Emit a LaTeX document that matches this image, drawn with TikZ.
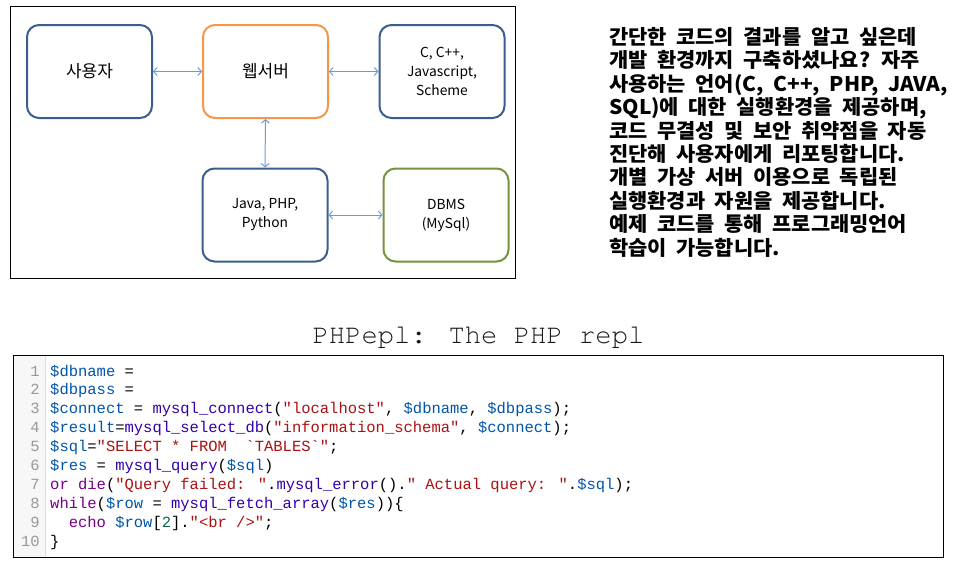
\documentclass[tikz,border=0pt]{standalone}
\usepackage{fontspec}
\usetikzlibrary{arrows.meta}
\setmainfont{Noto Sans CJK KR}
\newfontfamily\korfont{Noto Sans CJK KR}
\newfontfamily\korbold{Noto Sans CJK KR}[FakeStretch=1.035, WordSpace=2.0]
\newfontfamily\codefont{Liberation Mono}[Ligatures=TeXOff]
\newfontfamily\cursorfont{TeX Gyre Cursor}[Ligatures=TeXOff]
\definecolor{cmvar}{HTML}{0055AA}
\definecolor{cmbuilt}{HTML}{3300AA}
\definecolor{cmkw}{HTML}{770088}
\definecolor{cmstr}{HTML}{AA1111}
\definecolor{cmnum}{HTML}{116644}
\definecolor{cmgutter}{HTML}{F7F7F7}
\definecolor{cmgutline}{HTML}{DDDDDD}
\definecolor{cmlinenum}{HTML}{999999}
\definecolor{boxblue}{HTML}{3A5F8F}
\definecolor{boxorange}{HTML}{F79646}
\definecolor{boxgreen}{HTML}{77933C}
\definecolor{arrowblue}{HTML}{6E9BD6}
\newcommand\cmV[1]{\textcolor{cmvar}{#1}}
\newcommand\cmB[1]{\textcolor{cmbuilt}{#1}}
\newcommand\cmK[1]{\textcolor{cmkw}{#1}}
\newcommand\cmS[1]{\textcolor{cmstr}{#1}}
\newcommand\cmN[1]{\textcolor{cmnum}{#1}}
\newcommand\hangul[1]{{\fontsize{17}{19}\selectfont #1}}
\tikzset{
  diabox/.style={draw=#1, line width=2pt, rounded corners=12pt, minimum width=125pt, minimum height=93pt, inner sep=0pt, align=center, font=\korfont\fontsize{13.8}{19}\selectfont, text=black},
  link/.style={draw=arrowblue, line width=1pt, {Straight Barb[length=3.5pt,width=8pt]}-{Straight Barb[length=3.5pt,width=8pt]}},
  para/.style={anchor=base west, inner sep=0pt, font=\korbold\bfseries\fontsize{20.2}{23}\selectfont},
  codeline/.style={anchor=base west, inner sep=0pt, font=\codefont\fontsize{15.5}{18}\selectfont},
  linenum/.style={anchor=base east, inner sep=0pt, text=cmlinenum, font=\codefont\fontsize{15.5}{18}\selectfont},
}
\begin{document}
\begin{tikzpicture}[x=1pt,y=-1pt]
\useasboundingbox (0,0) rectangle (960,560);
% diagram frame
\draw[black, line width=1pt] (10,6) rectangle (515,278);
% boxes
\node[diabox=boxblue] (user) at (89.5,71.5) {\hangul{사용자}};
\node[diabox=boxorange] (web) at (265.5,71.5) {\hangul{웹서버}};
\node[diabox=boxblue] (clang) at (442,71.5) {C, C++,\\Javascript,\\Scheme};
\node[diabox=boxblue] (java) at (265,215) {Java, PHP,\\Python};
\node[diabox=boxgreen] (dbms) at (446,215) {DBMS\\(MySql)};
% connectors
\draw[link] (user.east) -- (web.west);
\draw[link] (web.east) -- (clang.west);
\draw[link] (web.south) -- (java.north);
\draw[link] (java.east) -- (dbms.west);
% right text
\node[para] (t1) at (609,44.5) {간단한 코드의 결과를 알고 싶은데};
\node[para] (t2) at (609,67.9) {개발 환경까지 구축하셨나요? 자주};
\node[para] (t3) at (609,91.3) {사용하는 언어(C, C++, PHP, JAVA,};
\node[para] (t4) at (609,114.7) {SQL)에 대한 실행환경을 제공하며,};
\node[para] (t5) at (609,138.1) {코드 무결성 및 보안 취약점을 자동};
\node[para] (t6) at (609,161.5) {진단해 사용자에게 리포팅합니다.};
\node[para] (t7) at (609,184.9) {개별 가상 서버 이용으로 독립된};
\node[para] (t8) at (609,208.3) {실행환경과 자원을 제공합니다.};
\node[para] (t9) at (609,231.7) {예제 코드를 통해 프로그래밍언어};
\node[para] (t10) at (609,255.1) {학습이 가능합니다.};
% title
\node[anchor=base, inner sep=0pt, font=\cursorfont\fontsize{27.2}{30}\selectfont, text=black!90] (title) at (478.5,343) {PHPepl: The PHP repl};
% code box
\fill[cmgutter] (13,355) rectangle (45,557);
\draw[cmgutline, line width=1pt] (45,355) -- (45,557);
\draw[black, line width=1pt] (13,355) rectangle (943,557);
\foreach \i in {1,...,10} {
  \node[linenum] (n\i) at (40,{376+18.9*(\i-1)}) {\i};
}
\node[codeline] (c1) at (50,376.0) {\cmV{\$dbname} =};
\node[codeline] (c2) at (50,394.9) {\cmV{\$dbpass} =};
\node[codeline] (c3) at (50,413.8) {\cmV{\$connect} = \cmB{mysql\_connect}(\cmS{"localhost"}, \cmV{\$dbname}, \cmV{\$dbpass});};
\node[codeline] (c4) at (50,432.7) {\cmV{\$result}=\cmB{mysql\_select\_db}(\cmS{"information\_schema"}, \cmV{\$connect});};
\node[codeline] (c5) at (50,451.6) {\cmV{\$sql}=\cmS{"SELECT * FROM~~`TABLES`"};};
\node[codeline] (c6) at (50,470.5) {\cmV{\$res} = \cmB{mysql\_query}(\cmV{\$sql})};
\node[codeline] (c7) at (50,489.4) {\cmK{or} \cmK{die}(\cmS{"Query failed: "}.\cmB{mysql\_error}().\cmS{" Actual query: "}.\cmV{\$sql});};
\node[codeline] (c8) at (50,508.3) {\cmK{while}(\cmV{\$row} = \cmB{mysql\_fetch\_array}(\cmV{\$res}))\{};
\node[codeline] (c9) at (50,527.2) {~~\cmK{echo} \cmV{\$row}[\cmN{2}].\cmS{"<br />"};};
\node[codeline] (c10) at (50,546.1) {\}};
\end{tikzpicture}
\end{document}
